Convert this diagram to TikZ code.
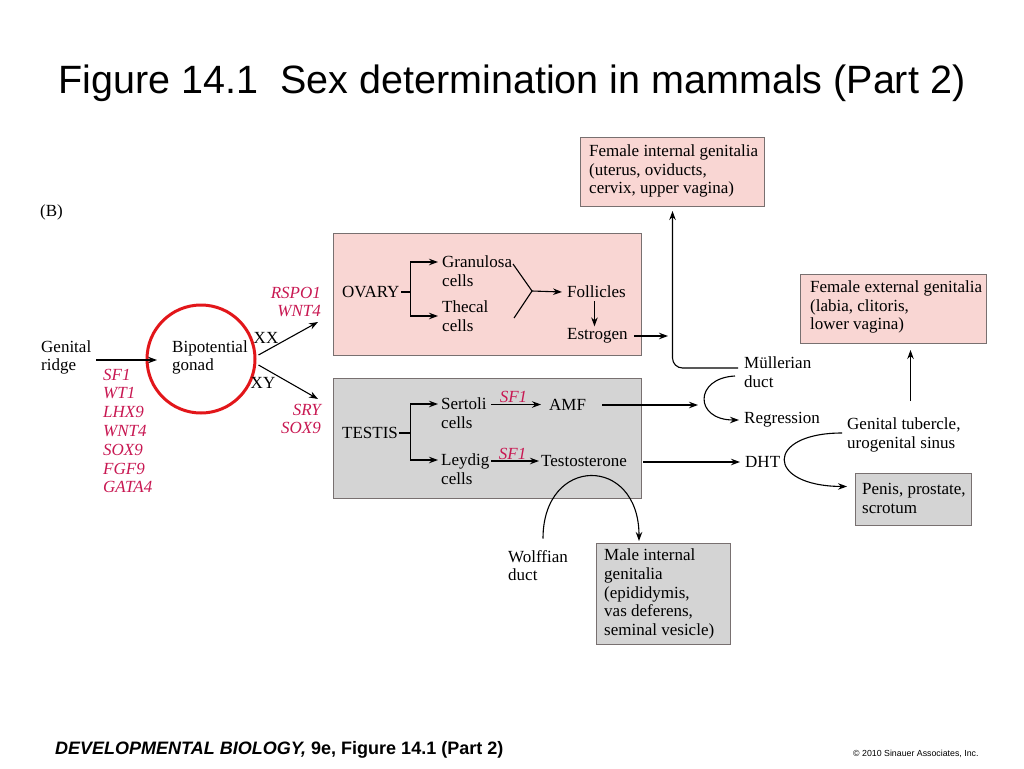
\documentclass[tikz,border=0pt]{standalone}
\usepackage{fontspec}
\usepackage{graphicx}
\setmainfont{Liberation Serif}
\newfontfamily\sansf{Liberation Sans}
\usetikzlibrary{arrows.meta,calc,shapes.geometric}
\definecolor{pinkfill}{RGB}{249,214,211}
\definecolor{greyfill}{RGB}{212,212,212}
\definecolor{boxline}{RGB}{120,112,112}
\definecolor{genered}{RGB}{200,24,82}
\definecolor{ringred}{RGB}{226,22,26}
\tikzset{
  txt/.style={inner sep=0pt, align=left, anchor=west, font=\fontsize{17}{18.8}\selectfont},
  gene/.style={txt, text=genered, font=\fontsize{17}{18.8}\selectfont\itshape},
  arr/.style={-{Stealth[length=9pt,width=6.5pt]}, line width=1.1pt},
  ln/.style={line width=1.1pt},
  boxbase/.style={draw=boxline, line width=1pt, anchor=north west, inner sep=0pt},
  pinkbox/.style={boxbase, fill=pinkfill},
  greybox/.style={boxbase, fill=greyfill},
}
\begin{document}
\begin{tikzpicture}[x=1pt,y=-1pt]
\useasboundingbox (0,0) rectangle (1024,768);

% title and footer
\node[font=\sansf\fontsize{39.5}{48}\selectfont, anchor=base, inner sep=0pt] (title) at (512,93) {Figure 14.1\ \ Sex determination in mammals (Part 2)};
\node[anchor=base west, inner sep=0pt, font=\sansf\bfseries\fontsize{18}{20}\selectfont] (foot) at (55,754) {\itshape DEVELOPMENTAL BIOLOGY,\upshape\ 9e, Figure 14.1 (Part 2)};
\node[anchor=base west, inner sep=0pt, font=\sansf\fontsize{8.8}{10}\selectfont] (copy) at (853,756) {\textcopyright{} 2010 Sinauer Associates, Inc.};

\node[txt] (B) at (40,212) {(B)};

% boxes
\node[pinkbox, minimum width=308, minimum height=122] (ovbox) at (333,233) {};
\node[greybox, minimum width=308, minimum height=120] (tebox) at (333,378) {};
\node[pinkbox, minimum width=184, minimum height=69] (fint) at (580,137) {};
\node[txt] (fintt) at ($(fint.west)+(9,-1)$) {Female internal genitalia\\(uterus, oviducts,\\cervix, upper vagina)};
\node[pinkbox, minimum width=186, minimum height=69] (fext) at (800,274) {};
\node[txt] (fextt) at ($(fext.west)+(10,-2)$) {Female external genitalia\\(labia, clitoris,\\lower vagina)};
\node[greybox, minimum width=116, minimum height=52] (pen) at (855,473) {};
\node[txt] (pent) at ($(pen.west)+(7,-1)$) {Penis, prostate,\\scrotum};
\node[greybox, minimum width=134, minimum height=101] (mint) at (596,543) {};
\node[txt] (mintt) at ($(mint.west)+(8,0)$) {Male internal\\genitalia\\(epididymis,\\vas deferens,\\seminal vesicle)};

% left part
\node[txt] (gr) at (41,357.5) {Genital\\ridge};
\node[draw=ringred, line width=3pt, circle, minimum size=108pt, inner sep=0pt] (ring) at (201,359) {};
\node[txt] (bip) at (172,357.5) {Bipotential\\gonad};
\node[gene] (genes) at (103,431) {SF1\\WT1\\LHX9\\WNT4\\SOX9\\FGF9\\GATA4};
\node[txt, anchor=center] (xx) at (266,338) {XX};
\node[txt, anchor=center] (xy) at (263,383) {XY};
\node[gene, anchor=east, align=right] (rspo) at (321,302) {RSPO1\\WNT4};
\node[gene, anchor=east, align=right] (sry) at (321,419) {SRY\\SOX9};
\coordinate (xxe) at (318,322);
\coordinate (xye) at (318,399);

\draw[arr] ($(gr.east)+(5,2.5)$) -- ($(bip.west)+(-15,2.5)$);
\draw[arr] ($(ring.east)+(2,-4)$) -- (xxe);
\draw[arr] ($(ring.east)+(2,6)$) -- (xye);

% ovary contents
\node[txt] (ov) at (342,292) {OVARY};
\node[txt] (gran) at (442,271) {Granulosa\\cells};
\node[txt] (thec) at (442,316) {Thecal\\cells};
\node[txt] (foll) at (567,292) {Follicles};
\node[txt] (estr) at (567,336) {Estrogen};
\coordinate (oj) at (410.5,292);
\coordinate (g1) at (513,264);
\coordinate (t1) at (514,318);
\coordinate (fj) at (532,291);
\coordinate (estre) at (668,336);

\draw[ln] (oj) -- ++(-10,0);
\draw[arr] (oj) |- ($(gran.west)+(-4,-9)$);
\draw[arr] (oj) |- ($(thec.west)+(-4,0)$);
\draw[ln] (g1) -- (fj) -- (t1);
\draw[arr] (fj) -- ($(foll.west)+(-5,0)$);
\draw[arr] ($(foll.south)+(-2,3)$) -- ($(foll.south |- estr.north)+(-2,-2)$);
\draw[arr] ($(estr.east)+(6,0)$) -- (estre);

% testis contents
\node[txt] (tes) at (342,433) {TESTIS};
\node[txt] (sert) at (441,413.5) {Sertoli\\cells};
\node[txt] (leyd) at (441,469.5) {Leydig\\cells};
\node[txt] (amf) at (549,405) {AMF};
\node[txt] (testo) at (541,461) {Testosterone};
\coordinate (tj) at (410.5,433);
\coordinate (amfe) at (698,405);

\draw[ln] (tj) -- ++(-12,0);
\draw[arr] (tj) |- ($(sert.west)+(-3,-9.5)$);
\draw[arr] (tj) |- ($(leyd.west)+(-3,-9.5)$);
\draw[arr] ($(sert.west)+(50,-9)$) -- node[gene, above=1pt, pos=0.45] (sf1a) {SF1} ($(amf.west)+(-8,-0.5)$);
\draw[arr] ($(leyd.west)+(50,-8.5)$) -- node[gene, above=1pt, pos=0.45] (sf1b) {SF1} ($(testo.west)+(-2,0)$);
\draw[arr] ($(amf.east)+(16,0)$) -- (amfe);

% right part
\node[txt] (mul) at (744,372) {M\"ullerian\\duct};
\node[txt] (reg) at (744,420) {Regression};
\node[txt] (dht) at (745,462) {DHT};
\node[txt] (gt) at (847,435) {Genital tubercle,\\urogenital sinus};
\node[txt] (wolf) at (508,565.5) {Wolffian\\duct};

\draw[arr, rounded corners=10pt] ($(mul.west)+(-6,-4)$) -| ($(fint.south)+(0,4)$);
\draw[arr] ($(mul.west)+(-9,4)$) .. controls (694,378) and (694,420) .. ($(reg.west)+(-5,0)$);
\draw[arr] ($(testo.east)+(16,1)$) -- ($(dht.west)+(-5,0)$);
\draw[arr] ($(gt.west)+(-5,-2)$) .. controls (765,433) and (765,486) .. ($(pen.west)+(-8,-13)$);
\draw[arr] ($(fext.south)+(17,57)$) -- ($(fext.south)+(17,6)$);
\draw[arr] ($(wolf.west)+(35,-27)$) .. controls (543,455) and (639,455) .. ($(mint.north west)+(43,-2)$);
\end{tikzpicture}
\end{document}
